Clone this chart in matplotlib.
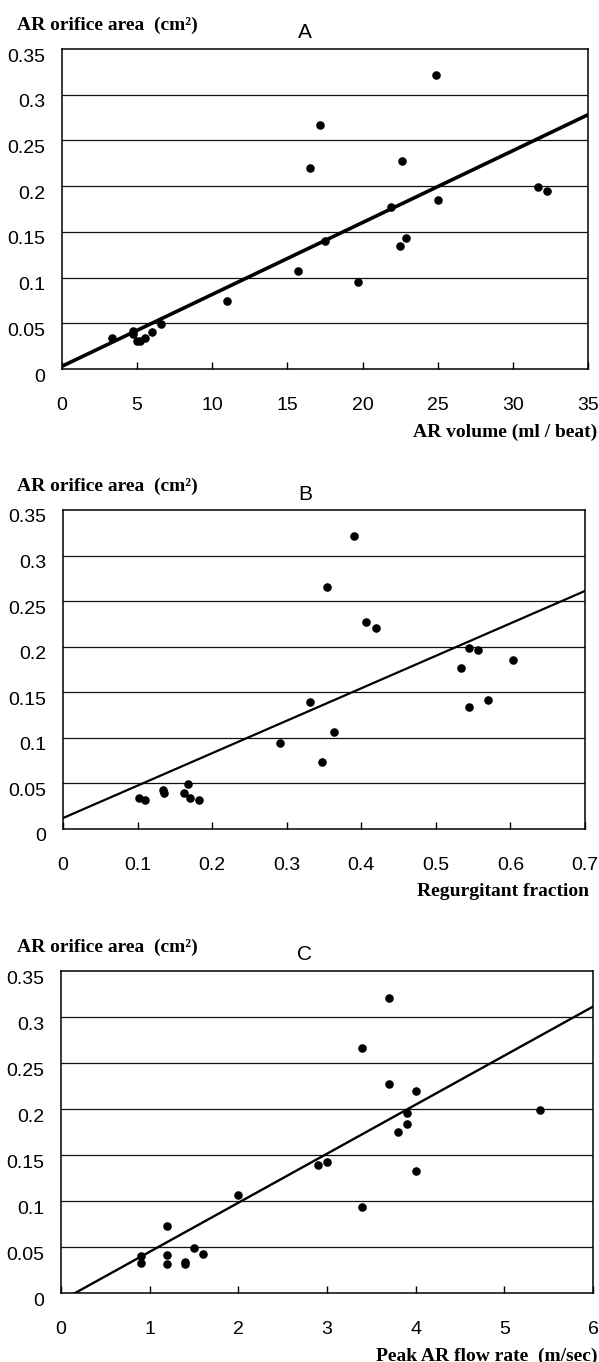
import matplotlib
matplotlib.use('Agg')
import numpy as np
import matplotlib.pyplot as plt
import matplotlib.transforms as mtransforms

# panel A: AR volume vs orifice area
vol_x = [24.9, 17.2, 16.5, 22.6, 31.7, 32.3, 25.0, 21.9, 17.5, 22.9, 22.5,
         15.7, 19.7, 11.0, 6.6, 6.0, 4.7, 4.7, 5.0, 5.2, 5.5, 3.3]
vol_y = [0.322, 0.267, 0.220, 0.227, 0.199, 0.195, 0.185, 0.177, 0.140, 0.143, 0.135,
         0.107, 0.095, 0.074, 0.049, 0.041, 0.042, 0.038, 0.031, 0.031, 0.034, 0.034]
vol_fit = [0.00786, 0.003]   # slope, intercept

# panel B: regurgitant fraction
rf_x = [0.390, 0.354, 0.406, 0.420, 0.544, 0.556, 0.603, 0.534, 0.331, 0.544, 0.570,
        0.363, 0.291, 0.347, 0.168, 0.134, 0.136, 0.162, 0.170, 0.183, 0.102, 0.110]
rf_y = [0.322, 0.266, 0.227, 0.220, 0.199, 0.196, 0.185, 0.177, 0.139, 0.134, 0.142,
        0.106, 0.094, 0.073, 0.049, 0.043, 0.039, 0.040, 0.034, 0.032, 0.034, 0.032]
rf_fit = [0.356, 0.012]

# panel C: peak AR flow rate
fr_x = [3.7, 3.4, 3.7, 4.0, 5.4, 3.9, 3.9, 3.8, 2.9, 3.0, 4.0,
        2.0, 3.4, 1.2, 1.5, 1.6, 0.9, 0.9, 1.2, 1.2, 1.4, 1.4]
fr_y = [0.321, 0.266, 0.227, 0.220, 0.199, 0.196, 0.184, 0.175, 0.139, 0.142, 0.133,
        0.106, 0.094, 0.073, 0.049, 0.042, 0.040, 0.033, 0.041, 0.032, 0.034, 0.032]
fr_fit = [0.0533, -0.0085]

y_ticks = [0, 0.05, 0.1, 0.15, 0.2, 0.25, 0.3, 0.35]
y_labels = ['0', '0.05', '0.1', '0.15', '0.2', '0.25', '0.3', '0.35']

panels = [
    dict(x=vol_x, y=vol_y, fit=vol_fit, xmax=35, xt=[0, 5, 10, 15, 20, 25, 30, 35],
         xtl=['0', '5', '10', '15', '20', '25', '30', '35'], title='A',
         xlabel='AR volume (ml / beat)', rect=[62, 49, 588, 369], lw=2.6, xl=597),
    dict(x=rf_x, y=rf_y, fit=rf_fit, xmax=0.7, xt=[0, 0.1, 0.2, 0.3, 0.4, 0.5, 0.6, 0.7],
         xtl=['0', '0.1', '0.2', '0.3', '0.4', '0.5', '0.6', '0.7'], title='B',
         xlabel='Regurgitant fraction', rect=[63, 510, 585, 829], lw=1.6, xl=589),
    dict(x=fr_x, y=fr_y, fit=fr_fit, xmax=6, xt=[0, 1, 2, 3, 4, 5, 6],
         xtl=['0', '1', '2', '3', '4', '5', '6'], title='C',
         xlabel='Peak AR flow rate  (m/sec)', rect=[61, 971, 593, 1293], lw=1.7, xl=597),
]

W, H = 599, 1362
fig = plt.figure(figsize=(W / 100, H / 100), dpi=100)
tickfont = ['Liberation Sans', 'DejaVu Sans']
serif = ['Liberation Serif', 'DejaVu Serif']
down = mtransforms.ScaledTranslation(0, -6 / 100, fig.dpi_scale_trans)

for p in panels:
    l, t, r, b = p['rect']
    ax = fig.add_axes([l / W, 1 - b / H, (r - l) / W, (b - t) / H])
    ax.set_xlim(0, p['xmax'])
    ax.set_ylim(0, 0.35)
    for yv in y_ticks[1:-1]:
        ax.axhline(yv, color='#111111', lw=0.9, zorder=1)
    ax.scatter(p['x'], p['y'], s=38, color='black', zorder=3, linewidths=0)
    xx = np.array([0, p['xmax']])
    ax.plot(xx, p['fit'][0] * xx + p['fit'][1], color='black', lw=p['lw'], zorder=2)
    ax.set_xticks(p['xt'])
    ax.set_xticklabels(p['xtl'], family=tickfont, fontsize=14)
    ax.set_yticks(y_ticks)
    ax.set_yticklabels(y_labels, family=tickfont, fontsize=14)
    ax.tick_params(axis='x', direction='in', length=5, width=1, pad=20)
    ax.tick_params(axis='y', length=0, pad=12)
    for lab in ax.get_yticklabels():
        lab.set_transform(lab.get_transform() + down)
    for s in ax.spines.values():
        s.set_linewidth(1.1)
    ax.text((305 - l) / (r - l), 1 + 16 / (b - t), p['title'], transform=ax.transAxes,
            ha='center', va='center', fontsize=15, family=tickfont)
    fig.text(17 / W, 1 - (t - 24) / H, 'AR orifice area  (cm²)', ha='left', va='center',
             fontsize=14, fontweight='bold', family=serif)
    fig.text(p['xl'] / W, 1 - (b + 63) / H, p['xlabel'], ha='right', va='center',
             fontsize=14, fontweight='bold', family=serif)

fig.savefig('out.png', dpi=100)
